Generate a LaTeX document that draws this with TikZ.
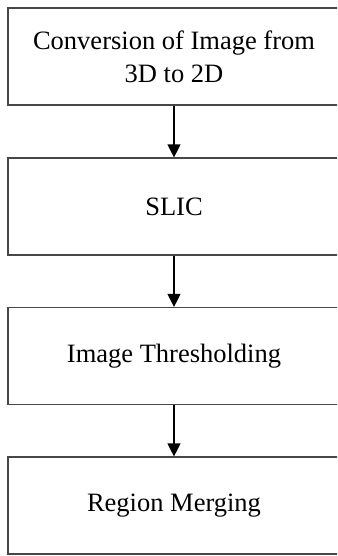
\documentclass[tikz,border=0pt]{standalone}
\usepackage{fontspec}
\setmainfont{Liberation Serif}
\usetikzlibrary{arrows.meta}
\begin{document}
\begin{tikzpicture}[x=1pt,y=-1pt,
  stepbox/.style={draw=black!72, line width=1.2pt, fill=white, minimum width=332pt, minimum height=97pt,
    inner sep=0pt, align=center, font=\fontsize{26.5}{33}\selectfont},
  flow/.style={draw=black, line width=1.3pt, -{Triangle[width=13pt,length=13pt]}}]
\useasboundingbox (0,0) rectangle (337,556);
\clip (0,0) rectangle (337,556);
\node[stepbox] (b1) at (174,56.5) {Conversion of Image from\\3D to 2D};
\node[stepbox] (b2) at (174,206.5) {SLIC};
\node[stepbox] (b3) at (174,356) {Image Thresholding};
\node[stepbox] (b4) at (174,505.5) {Region Merging};
\draw[flow] (b1.south) -- (b2.north);
\draw[flow] (b2.south) -- (b3.north);
\draw[flow] (b3.south) -- (b4.north);
\end{tikzpicture}
\end{document}
